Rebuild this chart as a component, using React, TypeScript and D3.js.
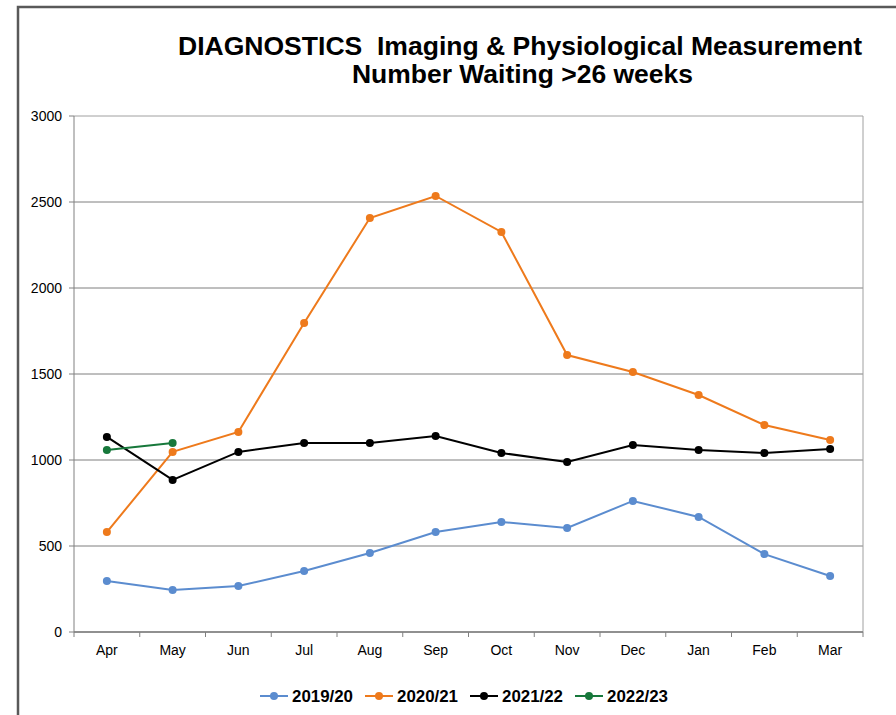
import React from 'react';
import * as d3 from 'd3';

const months = ['Apr', 'May', 'Jun', 'Jul', 'Aug', 'Sep', 'Oct', 'Nov', 'Dec', 'Jan', 'Feb', 'Mar'];
const yTicks = [0, 500, 1000, 1500, 2000, 2500, 3000];

const y2019 = [296, 244, 267, 355, 459, 581, 640, 605, 762, 669, 453, 326];
const y2020 = [581, 1047, 1163, 1797, 2407, 2535, 2326, 1610, 1512, 1378, 1203, 1116];
const y2021 = [1134, 884, 1047, 1099, 1099, 1140, 1041, 988, 1087, 1058, 1041, 1064];
const y2022 = [1058, 1099];

const seriesNames = ['2019/20', '2020/21', '2021/22', '2022/23'];
const seriesColors = ['#5b8ccf', '#ee7a1c', '#000000', '#17783b'];

const W = 896;
const H = 715;
const font = 'Arial, "Liberation Sans", sans-serif';

const App = () => {
    const left = 74, right = 863, top = 116, bottom = 632;

    const x = d3.scaleBand().domain(months).range([left, right]);
    const y = d3.scaleLinear().domain([0, 3000]).range([bottom, top]);

    const all = [y2019, y2020, y2021, y2022];

    const line = d3.line<number>()
        .x((d, i) => x(months[i])! + x.bandwidth() / 2)
        .y(d => y(d));

    // legend layout
    const legendX = [260, 365, 470, 575];
    const legendY = 696;

    return (
        <svg width={W} height={H} style={{ position: 'absolute', left: 0, top: 0, background: '#fff' }}>
            {/* outer frame */}
            <rect x={18} y={7} width={W + 20} height={H + 20} fill="#fff" stroke="#595959" strokeWidth={2.5} />

            {/* title */}
            <text x={178} y={55} textLength={684} lengthAdjust="spacingAndGlyphs" fontFamily={font} fontWeight="bold" fontSize={25} fill="#000"
                style={{ whiteSpace: 'pre' }}>
                {'DIAGNOSTICS  Imaging & Physiological Measurement'}
            </text>
            <text x={352} y={83} textLength={341} lengthAdjust="spacingAndGlyphs" fontFamily={font} fontWeight="bold" fontSize={25} fill="#000">
                {'Number Waiting >26 weeks'}
            </text>

            {/* gridlines */}
            {yTicks.map(t => (
                <line key={t} x1={left} x2={right} y1={y(t)} y2={y(t)} stroke={t === 3000 ? '#a0a0a0' : '#7f7f7f'} strokeWidth={1} />
            ))}
            <line x1={right} x2={right} y1={top} y2={bottom} stroke="#a0a0a0" strokeWidth={1} />

            {/* y axis */}
            <line x1={left} x2={left} y1={top} y2={bottom} stroke="#808080" strokeWidth={1} />
            {yTicks.map(t => (
                <g key={'yt' + t}>
                    <line x1={left - 5} x2={left} y1={y(t)} y2={y(t)} stroke="#808080" />
                    <text x={left - 12} y={y(t) + 5} textAnchor="end" fontFamily={font} fontSize={14} fill="#000">{t}</text>
                </g>
            ))}

            {/* x axis */}
            <line x1={left} x2={right} y1={bottom} y2={bottom} stroke="#808080" strokeWidth={1.5} />
            {months.map((m, i) => (
                <g key={m}>
                    <line x1={x(m)!} x2={x(m)!} y1={bottom} y2={bottom + 5} stroke="#808080" />
                    <text x={x(m)! + x.bandwidth() / 2} y={bottom + 23} textAnchor="middle" fontFamily={font} fontSize={14} fill="#000">{m}</text>
                </g>
            ))}
            <line x1={right} x2={right} y1={bottom} y2={bottom + 5} stroke="#808080" />

            {/* series */}
            {all.map((vals, si) => (
                <g key={seriesNames[si]}>
                    <path d={line(vals) || ''} fill="none" stroke={seriesColors[si]} strokeWidth={2} />
                    {vals.map((v, i) => (
                        <circle key={i} cx={x(months[i])! + x.bandwidth() / 2} cy={y(v)} r={4} fill={seriesColors[si]} />
                    ))}
                </g>
            ))}

            {/* legend */}
            {seriesNames.map((n, i) => (
                <g key={'lg' + n}>
                    <line x1={legendX[i]} x2={legendX[i] + 28} y1={legendY} y2={legendY} stroke={seriesColors[i]} strokeWidth={2} />
                    <circle cx={legendX[i] + 14} cy={legendY} r={4} fill={seriesColors[i]} />
                    <text x={legendX[i] + 32} y={legendY + 6} textLength={61} lengthAdjust="spacingAndGlyphs" fontFamily={font} fontWeight="bold" fontSize={16} fill="#000">{n}</text>
                </g>
            ))}
        </svg>
    );
};

export default App;
